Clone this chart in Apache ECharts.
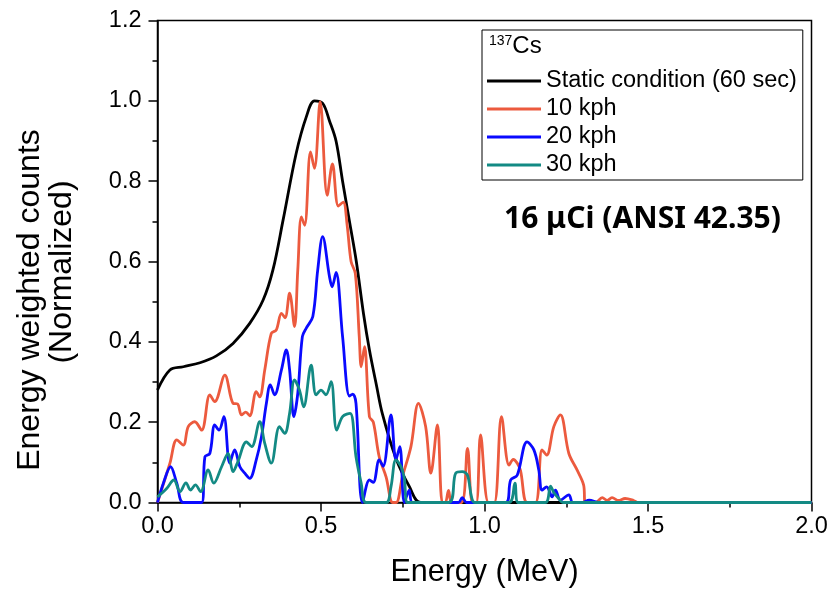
<!DOCTYPE html>
<html>
<head>
<meta charset="utf-8">
<script src="https://cdn.jsdelivr.net/npm/echarts@6/dist/echarts.min.js"></script>
<style>
  html, body { margin: 0; padding: 0; background: #fff; }
  #chart { width: 828px; height: 590px; }
</style>
</head>
<body>
<div id="chart"></div>
<script>
// Energy-weighted, normalized 137Cs spectra (energy in MeV)
const staticE = [0, 0.038, 0.079, 0.13, 0.18, 0.231, 0.282, 0.323, 0.353, 0.384, 0.424, 0.455, 0.48, 0.505, 0.526, 0.546, 0.566, 0.587, 0.608, 0.63, 0.648, 0.67, 0.688, 0.729, 0.77, 0.805, 1.0, 1.5, 2.0];
const staticV = [0.28, 0.33, 0.338, 0.348, 0.365, 0.396, 0.446, 0.504, 0.579, 0.703, 0.869, 0.96, 1.0, 0.994, 0.95, 0.9, 0.8, 0.7, 0.6, 0.47, 0.38, 0.29, 0.22, 0.11, 0.04, 0, 0, 0, 0];

const kph10E = [0, 0.038, 0.059, 0.079, 0.094, 0.114, 0.135, 0.16, 0.175, 0.206, 0.231, 0.245, 0.257, 0.27, 0.282, 0.302, 0.3125, 0.328, 0.348, 0.363, 0.379, 0.39, 0.404, 0.419, 0.429, 0.44, 0.45, 0.468, 0.48, 0.4975, 0.519, 0.535, 0.553, 0.568, 0.58, 0.592, 0.605, 0.617, 0.623, 0.633, 0.648, 0.66, 0.678, 0.699, 0.719, 0.73, 0.749, 0.775, 0.798, 0.82, 0.836, 0.856, 0.871, 0.88, 0.89, 0.9, 0.93, 0.948, 0.963, 0.975, 0.988, 1.012, 1.03, 1.052, 1.075, 1.088, 1.1, 1.11, 1.13, 1.156, 1.176, 1.19, 1.212, 1.232, 1.258, 1.283, 1.303, 1.309, 1.34, 1.36, 1.375, 1.39, 1.41, 1.43, 1.456, 1.47, 2.0];
const kph10V = [0, 0.098, 0.156, 0.143, 0.189, 0.201, 0.18, 0.268, 0.251, 0.317, 0.247, 0.245, 0.218, 0.225, 0.216, 0.276, 0.263, 0.33, 0.421, 0.429, 0.471, 0.46, 0.521, 0.438, 0.579, 0.711, 0.69, 0.873, 0.832, 0.998, 0.765, 0.843, 0.738, 0.748, 0.69, 0.6, 0.57, 0.413, 0.338, 0.388, 0.214, 0.2, 0.114, 0.064, 0, 0, 0.064, 0.139, 0.247, 0.189, 0.073, 0.193, 0, 0, 0.03, 0, 0, 0.135, 0, 0, 0.168, 0, 0, 0.214, 0.093, 0.107, 0.098, 0.08, 0, 0, 0.131, 0.118, 0.189, 0.218, 0.122, 0.081, 0.044, 0, 0, 0.012, 0.005, 0.012, 0.005, 0.01, 0.005, 0, 0];

const kph20E = [0, 0.018, 0.04, 0.059, 0.079, 0.135, 0.145, 0.16, 0.175, 0.188, 0.203, 0.221, 0.236, 0.252, 0.267, 0.282, 0.302, 0.318, 0.333, 0.345, 0.358, 0.379, 0.394, 0.404, 0.417, 0.429, 0.443, 0.455, 0.475, 0.49, 0.505, 0.526, 0.534, 0.546, 0.566, 0.587, 0.597, 0.607, 0.627, 0.648, 0.66, 0.678, 0.69, 0.714, 0.729, 0.741, 0.755, 0.77, 0.78, 0.92, 0.932, 0.945, 1.065, 1.08, 1.1, 1.13, 1.151, 1.166, 1.176, 1.19, 1.207, 1.217, 1.232, 1.258, 1.27, 1.3, 1.32, 1.35, 2.0];
const kph20V = [0, 0.048, 0.089, 0.048, 0, 0, 0.114, 0.122, 0.193, 0.18, 0.214, 0.098, 0.131, 0.089, 0.073, 0.06, 0.106, 0.164, 0.247, 0.293, 0.268, 0.33, 0.38, 0.33, 0.214, 0.272, 0.413, 0.434, 0.463, 0.579, 0.662, 0.562, 0.537, 0.573, 0.413, 0.265, 0.27, 0.247, 0, 0.056, 0.05, 0.106, 0.09, 0.218, 0.106, 0.139, 0, 0.031, 0, 0, 0.012, 0, 0, 0.056, 0.068, 0.151, 0.131, 0.081, 0.031, 0.039, 0.014, 0.031, 0.006, 0.019, 0, 0, 0.006, 0, 0];

const kph30E = [0, 0.028, 0.05, 0.069, 0.087, 0.101, 0.116, 0.132, 0.155, 0.172, 0.196, 0.216, 0.231, 0.246, 0.272, 0.288, 0.3125, 0.328, 0.348, 0.373, 0.389, 0.404, 0.419, 0.434, 0.447, 0.47, 0.485, 0.5, 0.515, 0.531, 0.548, 0.566, 0.589, 0.607, 0.623, 0.638, 0.699, 0.714, 0.729, 0.745, 0.755, 0.765, 0.89, 0.912, 0.932, 0.948, 0.96, 0.97, 1.075, 1.093, 1.103, 1.186, 1.202, 1.212, 1.227, 1.24, 2.0];
const kph30V = [0.014, 0.035, 0.056, 0.027, 0.049, 0.031, 0.044, 0.027, 0.081, 0.048, 0.089, 0.122, 0.077, 0.102, 0.151, 0.139, 0.201, 0.147, 0.098, 0.189, 0.172, 0.222, 0.305, 0.28, 0.238, 0.342, 0.268, 0.28, 0.268, 0.301, 0.18, 0.214, 0.222, 0.114, 0.048, 0, 0, 0.039, 0.106, 0.089, 0.06, 0, 0, 0.073, 0.077, 0.068, 0.015, 0, 0, 0.048, 0, 0, 0.041, 0.025, 0.01, 0, 0];

const seriesNames = ['Static condition (60 sec)', '10 kph', '20 kph', '30 kph'];
const seriesColors = ['#000000', '#ec5a3e', '#0a0aff', '#138a84'];
const xTicks = ['0.0', '0.5', '1.0', '1.5', '2.0'];

const zip = (xs, ys) => xs.map((x, i) => [x, ys[i]]);
const seriesData = [zip(staticE, staticV), zip(kph10E, kph10V), zip(kph20E, kph20V), zip(kph30E, kph30V)];

const FONT = 'Liberation Sans, Arial, sans-serif';
const chart = echarts.init(document.getElementById('chart'), null, { renderer: 'canvas' });

chart.setOption({
  animation: false,
  backgroundColor: '#ffffff',
  grid: {
    left: 157.5, right: 16.5, top: 20.5, bottom: 87.5,
    containLabel: false, outerBoundsMode: 'none',
    show: true, borderColor: '#000', borderWidth: 1.5, backgroundColor: 'transparent'
  },
  xAxis: {
    type: 'value', min: 0, max: 2, interval: 0.5,
    name: 'Energy (MeV)', nameLocation: 'middle', nameGap: 55,
    nameTextStyle: { fontFamily: FONT, fontSize: 30.5, color: '#000' },
    axisLine: { lineStyle: { color: '#000', width: 1.5 } },
    axisTick: { show: true, inside: false, length: 9, lineStyle: { color: '#000', width: 1.5 } },
    minorTick: { show: true, splitNumber: 2, length: 5, lineStyle: { color: '#000', width: 1.5 } },
    splitLine: { show: false },
    axisLabel: {
      fontFamily: FONT, fontSize: 23.5, color: '#000', margin: 12,
      formatter: v => xTicks[Math.round(v / 0.5)]
    }
  },
  yAxis: {
    type: 'value', min: 0, max: 1.2, interval: 0.2,
    axisLine: { lineStyle: { color: '#000', width: 1.5 } },
    axisTick: { show: true, inside: false, length: 9, lineStyle: { color: '#000', width: 1.5 } },
    minorTick: { show: true, splitNumber: 2, length: 5, lineStyle: { color: '#000', width: 1.5 } },
    splitLine: { show: false },
    axisLabel: {
      fontFamily: FONT, fontSize: 23.5, color: '#000', margin: 16,
      formatter: v => v.toFixed(1)
    }
  },
  legend: {
    left: 482, top: 30, orient: 'vertical',
    data: seriesNames,
    icon: 'rect', itemWidth: 54, itemHeight: 3, itemGap: 4,
    padding: [39, 6, 3, 5],
    borderColor: '#000', borderWidth: 1, backgroundColor: '#fff',
    textStyle: { fontFamily: FONT, fontSize: 23.5, color: '#000', lineHeight: 24 }
  },
  graphic: [
    // y-axis title, two rotated lines
    {
      type: 'text', x: 30, y: 300, rotation: Math.PI / 2, z: 100,
      style: {
        text: 'Energy weighted counts', fontFamily: FONT, fontSize: 32, fill: '#000',
        align: 'center', verticalAlign: 'middle'
      }
    },
    {
      type: 'text', x: 62, y: 272, rotation: Math.PI / 2, z: 100,
      style: {
        text: '(Normalized)', fontFamily: FONT, fontSize: 32, fill: '#000',
        align: 'center', verticalAlign: 'middle'
      }
    },
    {
      type: 'text', left: 489, top: 34, z: 100,
      style: {
        text: '{sup|137}{el|Cs}',
        rich: {
          sup: { fontFamily: FONT, fontSize: 14, fill: '#000', verticalAlign: 'top', padding: [0, 0, 8, 0] },
          el: { fontFamily: FONT, fontSize: 24, fill: '#000' }
        }
      }
    },
    {
      type: 'text', left: 504, top: 204, z: 100,
      style: {
        text: '16 μCi (ANSI 42.35)',
        fontFamily: 'Noto Sans, sans-serif', fontWeight: 'bold', fontSize: 30, fill: '#000'
      }
    }
  ],
  series: seriesNames.map((name, i) => ({
    name, type: 'line', data: seriesData[i],
    showSymbol: false, symbol: 'none', smooth: 0.35,
    lineStyle: { color: seriesColors[i], width: 2.8 },
    itemStyle: { color: seriesColors[i] },
    z: 2 + i
  }))
});
</script>
</body>
</html>
